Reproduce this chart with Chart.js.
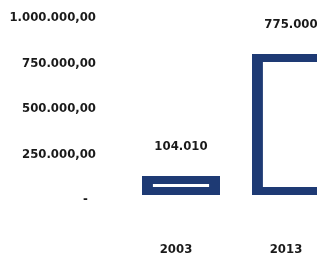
<!DOCTYPE html>
<html>
<head>
<meta charset="utf-8">
<script src="https://cdn.jsdelivr.net/npm/chart.js@4"></script>
<style>
  html, body { margin: 0; padding: 0; background: #fff; overflow: hidden; }
  #wrap { position: relative; width: 350px; height: 258px; }
</style>
</head>
<body>
<div id="wrap"><canvas id="chart"></canvas></div>
<script>
// chart data
const years = ['2003', '2013'];
const amounts = [104010, 775000];
const yTicks = [0, 250000, 500000, 750000, 1000000];

const navy = '#1e3a74';
const textColor = '#1a1a1a';
const fontFamily = '"DejaVu Sans Condensed", "DejaVu Sans", sans-serif';

// 1234567 -> "1.234.567"
function groupDots(n) {
    return Math.round(n).toString().replace(/\B(?=(\d{3})+(?!\d))/g, '.');
}

// value labels above the bars
const valueLabels = {
    id: 'valueLabels',
    afterDatasetsDraw(chart) {
        const ctx = chart.ctx;
        const meta = chart.getDatasetMeta(0);
        ctx.save();
        ctx.font = 'bold 13px ' + fontFamily;
        ctx.fillStyle = textColor;
        ctx.textAlign = 'center';
        ctx.textBaseline = 'middle';
        meta.data.forEach((bar, i) => {
            ctx.fillText(groupDots(amounts[i]), bar.x, bar.y - 29);
        });
        ctx.restore();
    }
};

new Chart(document.getElementById('chart'), {
    type: 'bar',
    data: {
        labels: years,
        datasets: [{
            data: amounts,
            backgroundColor: '#ffffff',
            borderColor: navy,
            borderWidth: { left: 11, right: 11, top: 8, bottom: 8 },
            borderSkipped: false,
            categoryPercentage: 1,
            barPercentage: 0.71
        }]
    },
    options: {
        responsive: true,
        maintainAspectRatio: false,
        animation: false,
        layout: { padding: { top: 13, right: 4, bottom: 0, left: 0 } },
        plugins: {
            legend: { display: false },
            tooltip: { enabled: false }
        },
        scales: {
            x: {
                afterFit(scale) {
                    scale.height = 63;
                    // tick padding would otherwise eat into the side margins
                    scale.paddingLeft = 0;
                    scale.paddingRight = 0;
                },
                grid: { display: false, drawTicks: false },
                border: { display: false },
                ticks: {
                    color: textColor,
                    font: { family: fontFamily, size: 13, weight: 'bold' },
                    padding: 47,
                    labelOffset: -5
                }
            },
            y: {
                min: yTicks[0],
                max: yTicks[yTicks.length - 1],
                afterBuildTicks(scale) {
                    scale.ticks = yTicks.map(v => ({ value: v }));
                },
                afterFit(scale) {
                    scale.width = 126;
                    scale.paddingTop = 0;
                    scale.paddingBottom = 0;
                },
                grid: { display: false, drawTicks: false },
                border: { display: false },
                ticks: {
                    color: textColor,
                    font: { family: fontFamily, size: 13, weight: 'bold' },
                    padding: 30,
                    labelOffset: 5,
                    callback: v => v === 0 ? '-  ' : groupDots(v) + ',00'
                }
            }
        }
    },
    plugins: [valueLabels]
});
</script>
</body>
</html>
